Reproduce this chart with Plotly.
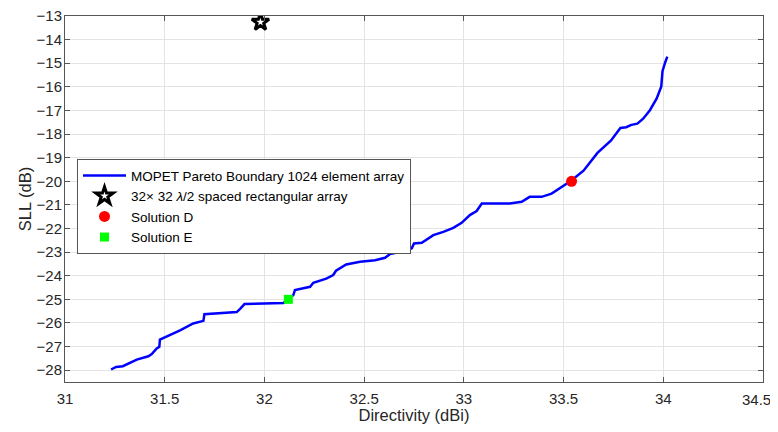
import plotly.graph_objects as go

pareto_x = [31.231, 31.256, 31.29, 31.318, 31.36, 31.418, 31.435, 31.46, 31.473, 31.476,
            31.577, 31.643, 31.694, 31.699, 31.861, 31.878, 31.90, 32.095, 32.12, 32.145,
            32.153, 32.229, 32.245, 32.31, 32.345, 32.359, 32.41, 32.48, 32.555, 32.605,
            32.63, 32.705, 32.739, 32.75, 32.789, 32.847, 32.897, 32.947, 32.989, 33.03,
            33.064, 33.09, 33.23, 33.29, 33.33, 33.39, 33.44, 33.50, 33.536, 33.60,
            33.63, 33.67, 33.737, 33.785, 33.814, 33.84, 33.87, 33.899, 33.933, 33.967,
            33.99, 33.996, 34.009, 34.02]
pareto_y = [-27.97, -27.86, -27.83, -27.72, -27.55, -27.41, -27.32, -27.08, -27.01, -26.70,
            -26.31, -26.02, -25.91, -25.63, -25.54, -25.40, -25.20, -25.15, -25.00, -24.82,
            -24.61, -24.47, -24.30, -24.12, -23.97, -23.79, -23.52, -23.41, -23.34, -23.24,
            -23.08, -22.94, -22.84, -22.63, -22.60, -22.28, -22.14, -21.97, -21.76, -21.43,
            -21.26, -20.94, -20.94, -20.87, -20.66, -20.66, -20.52, -20.20, -19.99, -19.55,
            -19.24, -18.80, -18.28, -17.74, -17.71, -17.61, -17.56, -17.35, -16.99, -16.49,
            -15.98, -15.34, -14.98, -14.72]

rect_x = [31.98]
rect_y = [-13.26]
solD_x = [33.54]
solD_y = [-20.0]
solE_x = [32.12]
solE_y = [-25.0]

x_ticks = [31, 31.5, 32, 32.5, 33, 33.5, 34, 34.5]
x_tick_labels = ["31", "31.5", "32", "32.5", "33", "33.5", "34", "34.5"]
y_ticks = list(range(-28, -12))
y_tick_labels = ["\u2212" + str(-v) for v in y_ticks]

FONT = "Liberation Sans, Arial, Helvetica"

fig = go.Figure()
fig.add_trace(go.Scatter(x=pareto_x, y=pareto_y, mode="lines",
                         line=dict(color="#0000FF", width=2.5),
                         name="MOPET Pareto Boundary 1024 element array"))
fig.add_trace(go.Scatter(x=rect_x, y=rect_y, mode="markers",
                         marker=dict(symbol="star", size=13, color="white",
                                     line=dict(width=3, color="black")),
                         name="32\u00d7 32 <i>\u03bb</i>/2 spaced rectangular array"))
fig.add_trace(go.Scatter(x=solD_x, y=solD_y, mode="markers",
                         marker=dict(symbol="circle", size=11, color="#FF0000"),
                         name="Solution D"))
fig.add_trace(go.Scatter(x=solE_x, y=solE_y, mode="markers",
                         marker=dict(symbol="square", size=9, color="#00FF00"),
                         name="Solution E"))

axis_common = dict(showline=True, linecolor="#555555", linewidth=1, mirror="allticks",
                   ticks="inside", ticklen=5, tickcolor="#555555",
                   showgrid=True, gridcolor="#E3E3E3", gridwidth=1, zeroline=False,
                   automargin=False, ticklabeloverflow="allow",
                   tickfont=dict(family=FONT, size=15, color="#262626"),
                   title_font=dict(family=FONT, size=16.5, color="#262626"))

# last x tick label is drawn as an annotation so it can sit slightly inside the edge
fig.update_xaxes(range=[31, 34.5], tickvals=x_ticks,
                 ticktext=x_tick_labels[:-1] + [""],
                 ticklabelstandoff=3,
                 title_text="Directivity (dBi)", title_standoff=8, **axis_common)
fig.update_yaxes(range=[-28.5, -13], tickvals=y_ticks, ticktext=y_tick_labels,
                 ticklabelstandoff=-1,
                 title_text="SLL (dB)", title_standoff=0, **axis_common)

fig.add_annotation(x=x_ticks[-1], xref="x", y=0, yref="paper",
                   text=x_tick_labels[-1], showarrow=False,
                   xanchor="center", yanchor="middle", xshift=-7, yshift=-17,
                   font=dict(family=FONT, size=15, color="#262626"))

fig.update_layout(
    width=762, height=416,
    margin=dict(l=57, r=7, t=8, b=42),
    plot_bgcolor="white", paper_bgcolor="white",
    font=dict(family=FONT, size=15, color="#262626"),
    legend=dict(x=0.0172, y=0.609, xanchor="left", yanchor="top",
                bgcolor="white", bordercolor="#555555", borderwidth=1,
                font=dict(family=FONT, size=13.5, color="black"),
                tracegroupgap=0, itemwidth=43),
    showlegend=True,
)

fig.write_html("out.html")
